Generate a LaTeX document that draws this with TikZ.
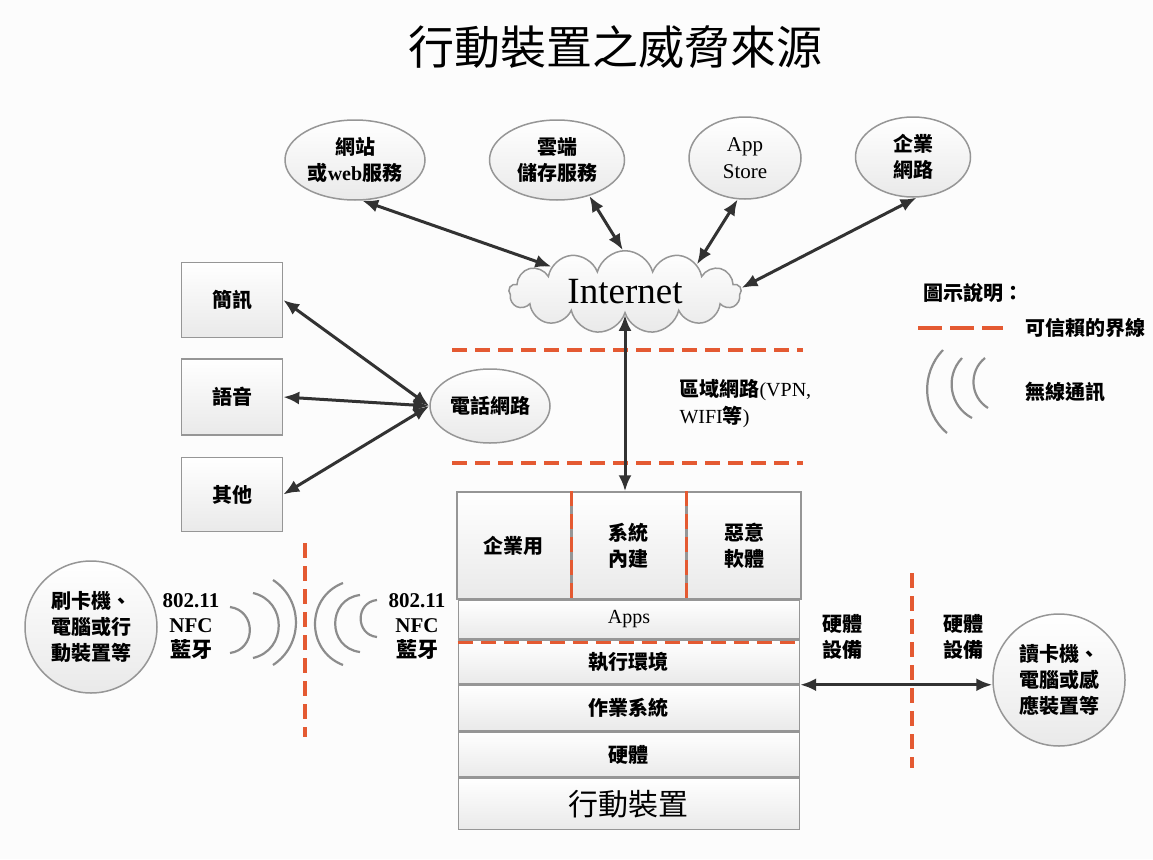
\documentclass[tikz,border=0pt]{standalone}
\usepackage{fontspec}
\setmainfont{Liberation Serif}
\newfontfamily\cjk{Noto Sans CJK TC}
\usetikzlibrary{arrows.meta,positioning,shapes.geometric,shapes.symbols}
\definecolor{trustred}{RGB}{228,90,50}
\definecolor{arrowgray}{RGB}{50,50,50}
\definecolor{edgegray}{RGB}{150,150,150}
\definecolor{wavegray}{RGB}{140,140,140}

\begin{document}
\begin{tikzpicture}[x=1pt,y=-1pt,
  soft/.style={draw=edgegray,line width=1.5pt,top color=white,bottom color=gray!17},
  blob/.style={soft,ellipse,inner sep=0pt,align=center},
  ball/.style={soft,circle,inner sep=0pt,minimum size=132,align=center},
  cell/.style={soft,rectangle,inner sep=0pt,align=center},
  cjktext/.style={font=\cjk\bfseries\fontsize{20}{26}\selectfont},
  link/.style={arrows={Latex[length=16pt,width=13pt]-Latex[length=16pt,width=13pt]},line width=3pt,arrowgray},
  trust/.style={trustred,line width=3.4pt,dash pattern=on 15pt off 8pt},
  wave/.style={wavegray,line width=2.2pt}]
 \path[use as bounding box,fill=gray!2] (0,0) rectangle (1153,859);
 \node[font=\cjk\fontsize{46}{50}\selectfont] (title) at (615,47) {行動裝置之威脅來源};

 % services on the internet
 \node[blob,cjktext,minimum width=140,minimum height=80] (web) at (355,160) {網站\\或{\rmfamily web}服務};
 \node[blob,cjktext,minimum width=135,minimum height=80] (storage) at (557,160) {雲端\\儲存服務};
 \node[blob,minimum width=112,minimum height=82,font=\fontsize{21}{27}\selectfont] (store) at (745,158) {App\\Store};
 \node[blob,cjktext,minimum width=115,minimum height=80] (biz) at (913,157) {企業\\網路};
 \node[soft,cloud,cloud puffs=13,aspect=3,minimum width=232,minimum height=76,inner sep=0pt,font=\fontsize{37}{40}\selectfont] (inet) at (625,292) {Internet};
 \draw[link] (web.-80) -- (inet.161);
 \draw[link] (storage.-48) -- (inet.93);
 \draw[link] (store.-100) -- (inet.21);
 \draw[link] (biz.-85) -- (inet.2);

 % phone network
 \node[blob,cjktext,minimum width=120,minimum height=74] (tel) at (490,406) {電話網路};
 \node[cell,cjktext,minimum width=101,minimum height=75] (sms) at (232,300) {簡訊};
 \node[cell,cjktext,minimum width=101,minimum height=76,below=20pt of sms] (voice) {語音};
 \node[cell,cjktext,minimum width=101,minimum height=74,below=21pt of voice] (other) {其他};
 \draw[link] (tel.west) -- (sms.east);
 \draw[link] (tel.west) -- (voice.east);
 \draw[link] (tel.west) -- (other.east);

 % local network
 \draw[trust] (452,350) -- (803,350);
 \draw[trust] (452,463) -- (803,463);
 \node[anchor=west,align=left,font=\fontsize{20}{27}\selectfont] (lan) at (676,404) {{\cjk\bfseries 區域網路}(VPN,\\WIFI{\cjk\bfseries 等})};

 % mobile device stack
 \node[cell,cjktext,minimum width=113.67,minimum height=107] (corp) at (513.8,545.5) {企業用};
 \node[cell,cjktext,minimum width=113.67,minimum height=107,right=0pt of corp] (sys) {系統\\內建};
 \node[cell,cjktext,minimum width=113.67,minimum height=107,right=0pt of sys] (mal) {惡意\\軟體};
 \node[cell,minimum width=341,minimum height=38,below=0pt of sys,font=\fontsize{20}{22}\selectfont] (apps) {Apps};
 \node[cell,cjktext,minimum width=341,minimum height=44,below=0pt of apps] (runtime) {執行環境};
 \node[cell,cjktext,minimum width=341,minimum height=45,below=0pt of runtime] (os) {作業系統};
 \node[cell,cjktext,minimum width=341,minimum height=45,below=0pt of os] (hw) {硬體};
 \node[cell,minimum width=341,minimum height=51,below=0pt of hw,font=\cjk\fontsize{30}{34}\selectfont] (mobile) {行動裝置};
 \draw[trust] (sys.north west) -- (sys.south west);
 \draw[trust] (sys.north east) -- (sys.south east);
 \draw[trust] ([yshift=-3pt]apps.south west) -- ([yshift=-3pt]apps.south east);
 \draw[link] (inet.south) -- (inet.south |- sys.north);

 % wired side
 \node[ball,cjktext] (reader) at (1059,680) {讀卡機、\\電腦或感\\應裝置等};
 \draw[link] (runtime.south east) -- (runtime.south east -| reader.west);
 \draw[trust] (912,573) -- (912,768);
 \node[cjktext,align=center] (hwl) at (842,637) {硬體\\設備};
 \node[cjktext,align=center] (hwr) at (963,637) {硬體\\設備};

 % wireless side
 \node[ball,cjktext] (card) at (91,627) {刷卡機、\\電腦或行\\動裝置等};
 \node[align=center,font=\bfseries\fontsize{21}{25}\selectfont] (wl) at (191,627) {802.11\\NFC\\{\cjk 藍牙}};
 \node[align=center,font=\bfseries\fontsize{21}{25}\selectfont] (wr) at (417,627) {802.11\\NFC\\{\cjk 藍牙}};
 \draw[trust] (305,543) -- (305,737);
 \draw[wave] (230,607) to[bend left=82,looseness=1.49] (230,653);
 \draw[wave] (253,593) to[bend left=77,looseness=1.39] (253,658);
 \draw[wave] (273,580) to[bend left=57,looseness=1.1] (273,665);
 \draw[wave] (343,583) to[bend right=69,looseness=1.25] (343,665);
 \draw[wave] (360,595) to[bend right=83,looseness=1.5] (360,652);
 \draw[wave] (377,600) to[bend right=84,looseness=1.52] (377,637);

 % legend
 \node[cjktext,anchor=west] (legend) at (920,293) {圖示說明：};
 \draw[trust,dash pattern=on 24pt off 8pt] (918,328) -- (1003,328);
 \node[cjktext,anchor=west] (ltrust) at (1022,328) {可信賴的界線};
 \draw[wave] (943,350) to[bend right=47] (947,433);
 \draw[wave] (962,358) to[bend right=53,looseness=1.06] (972,418);
 \draw[wave] (985,358) to[bend right=55,looseness=1.08] (988,408);
 \node[cjktext,anchor=west] (lwave) at (1022,392) {無線通訊};
\end{tikzpicture}
\end{document}
